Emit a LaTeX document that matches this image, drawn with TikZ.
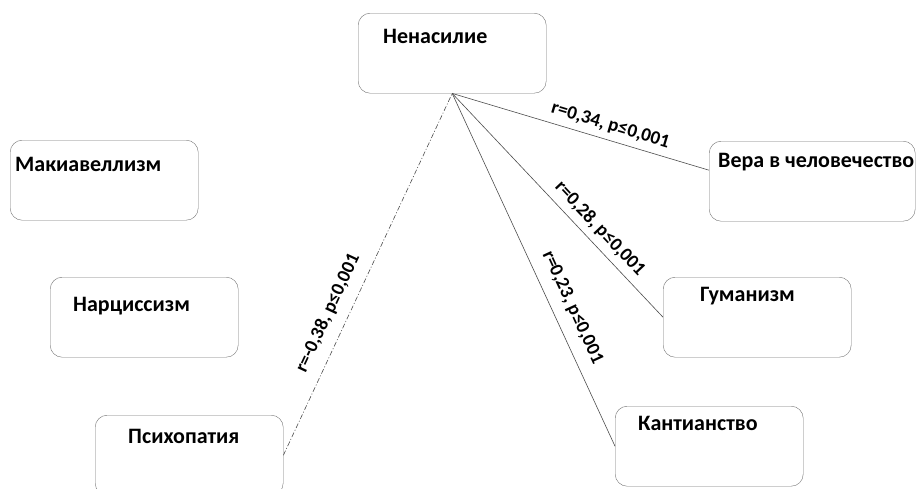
\documentclass[tikz,border=0pt]{standalone}
\usepackage{fontspec}
\setmainfont{Carlito}
\usetikzlibrary{positioning}

\begin{document}
\begin{tikzpicture}[x=1pt,y=-1pt,font=\bfseries]
\tikzstyle{b}=[draw=gray!90!black,rounded corners=12pt,minimum width=188pt,minimum height=80pt,anchor=north west,inner sep=0pt]
\tikzstyle{t}=[anchor=north west,font=\fontsize{22}{26}\selectfont\bfseries,inner sep=0pt]
\tikzstyle{c}=[draw=black!70,line width=0.6pt]
\tikzstyle{r}=[sloped,above=3pt,font=\fontsize{19}{22}\selectfont\bfseries]
\useasboundingbox (0,0) rectangle (916,488);
% boxes
\node[b,label={[t,xshift=25pt,yshift=-16pt]north west:Ненасилие}] (nen) at (358,13) {};
\node[b,label={[t,xshift=5pt,yshift=-17pt]north west:Макиавеллизм}] (mach) at (10,140) {};
\node[b,label={[t,xshift=23pt,yshift=-20pt]north west:Нарциссизм}] (narc) at (50,277) {};
\node[b,label={[t,xshift=33pt,yshift=-14pt]north west:Психопатия}] (psy) at (95,415) {};
\node[b,minimum width=206pt,label={[t,xshift=9pt,yshift=-12pt]north west:Вера в человечество}] (vera) at (709,141) {};
\node[b,label={[t,xshift=37pt,yshift=-10pt]north west:Гуманизм}] (hum) at (663,277) {};
\node[b,label={[t,xshift=23pt,yshift=-10pt]north west:Кантианство}] (kant) at (615,406) {};
% links
\draw[c] (nen.south) -- node[r,pos=0.6] {r=0,34, p≤0,001} ([yshift=11pt]vera.west);
\draw[c] (nen.south) -- node[r,pos=0.65] {r=0,28, p≤0,001} (hum.west);
\draw[c] (nen.south) -- node[r,pos=0.63,above=8pt] {r=0,23, p≤0,001} (kant.west);
\draw[c,dash pattern=on 5pt off 2pt on 1pt off 2pt] (psy.east) -- node[r,pos=0.37,above=8pt] {r=-0,38, p≤0,001} (nen.south);
\end{tikzpicture}
\end{document}
